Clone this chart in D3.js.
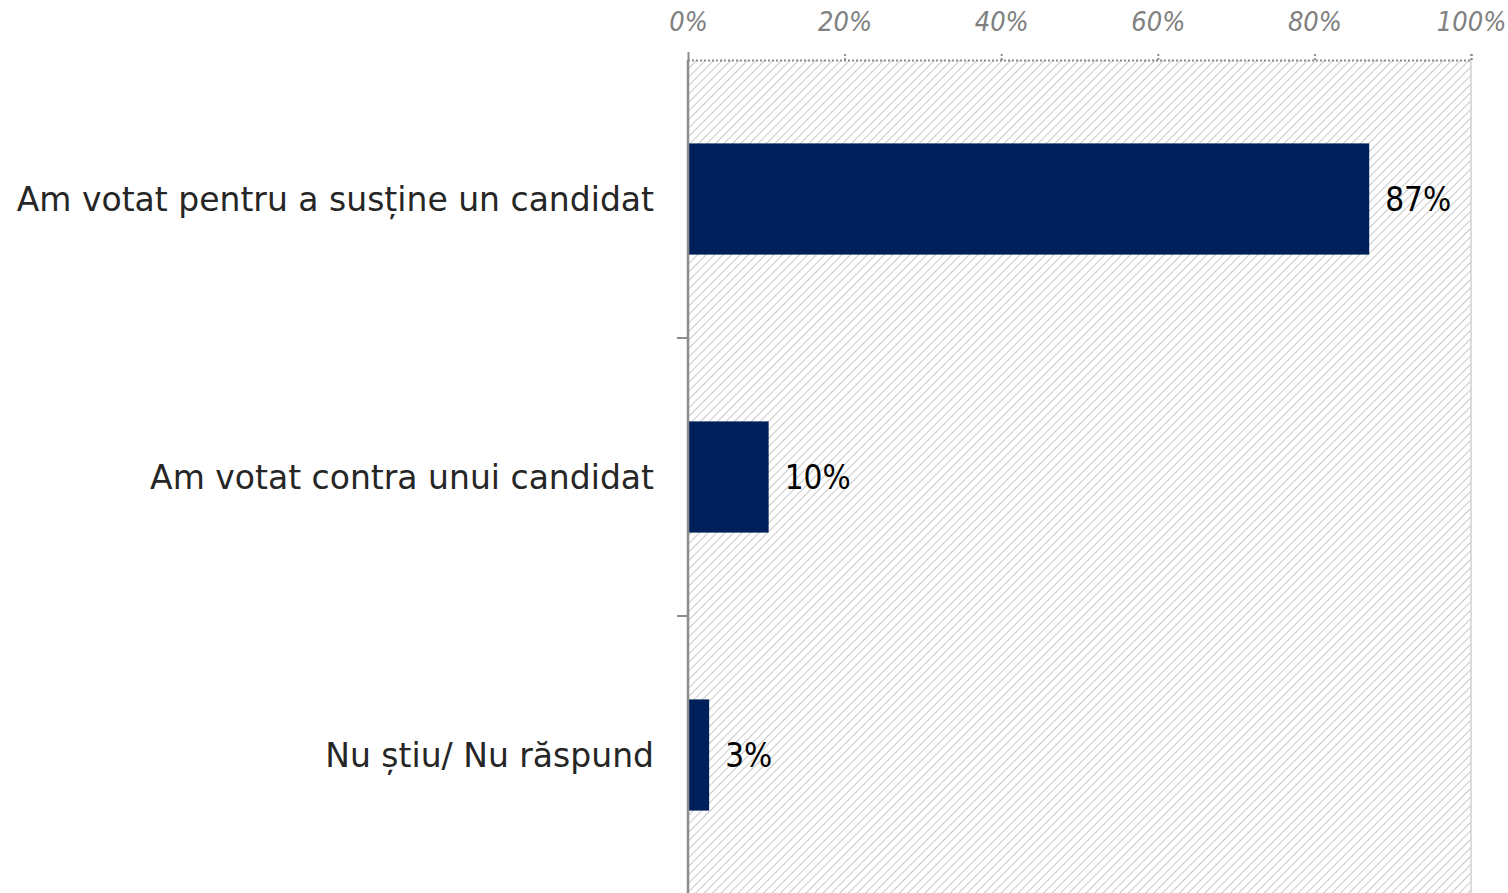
<!DOCTYPE html>
<html>
<head>
<meta charset="utf-8">
<script src="https://cdn.jsdelivr.net/npm/d3@7"></script>
<style>
  body { margin: 0; background: #fff; }
  svg { display: block; }
</style>
</head>
<body>
<div id="chart"></div>
<script>
'use strict';
// data
const categories = ['Am votat pentru a susține un candidat', 'Am votat contra unui candidat', 'Nu știu/ Nu răspund'];
const values = [87, 10.3, 2.7];
const tickValues = [0, 20, 40, 60, 80, 100];

const W = 1508, H = 893;
const margin = {top: 60, right: 37, bottom: -1, left: 688};
const width = W - margin.left - margin.right,
    height = H - margin.top - margin.bottom;
const font = '"DejaVu Sans", sans-serif';
const fontCond = '"DejaVu Sans Condensed", "DejaVu Sans", sans-serif';

const svg = d3.select('#chart').append('svg')
    .attr('width', W)
    .attr('height', H);

// hatch pattern for plot background
const defs = svg.append('defs');
const pat = defs.append('pattern')
    .attr('id', 'hatch')
    .attr('patternUnits', 'userSpaceOnUse')
    .attr('width', 6)
    .attr('height', 6)
    .attr('patternTransform', 'rotate(45)');
pat.append('line')
    .attr('x1', 0).attr('y1', 0)
    .attr('x2', 0).attr('y2', 6)
    .attr('stroke', '#c8c8c8')
    .attr('stroke-width', 2);

const g = svg.append('g')
    .attr('transform', 'translate(' + margin.left + ',' + margin.top + ')');

const x = d3.scaleLinear().domain([0, 100]).range([0, width]);
const y = d3.scaleBand().domain(categories).range([0, height]).paddingInner(0.6).paddingOuter(0.3);
const yBand = d3.scaleBand().domain(categories).range([0, height]);

g.append('rect')
    .attr('width', width)
    .attr('height', height)
    .attr('fill', 'url(#hatch)');

// right border
g.append('line')
    .attr('x1', width).attr('x2', width)
    .attr('y1', 0).attr('y2', height)
    .attr('stroke', '#d0d0d0')
    .attr('stroke-width', 1.5);

// top axis
const xAxis = g.append('g')
    .call(d3.axisTop(x).tickValues(tickValues).tickSize(8).tickPadding(21)
        .tickFormat(d => d + '%'));
xAxis.select('.domain')
    .attr('stroke', '#8c8c8c')
    .attr('stroke-width', 2)
    .attr('stroke-dasharray', '2,2');
xAxis.selectAll('.tick line')
    .attr('stroke', '#8c8c8c')
    .attr('stroke-width', 2)
    .attr('stroke-dasharray', '2,2');
xAxis.selectAll('.tick text')
    .attr('fill', '#808080')
    .style('font-family', fontCond)
    .style('font-style', 'italic')
    .style('font-size', '27px');

// bars
g.selectAll('.bar')
    .data(values)
    .enter().append('rect')
    .attr('class', 'bar')
    .attr('x', 0)
    .attr('y', (d, i) => y(categories[i]))
    .attr('width', d => x(d))
    .attr('height', y.bandwidth())
    .attr('fill', '#00205b');

// value labels
g.selectAll('.val')
    .data(values)
    .enter().append('text')
    .attr('class', 'val')
    .attr('x', d => x(d) + 16)
    .attr('y', (d, i) => y(categories[i]) + y.bandwidth() / 2)
    .attr('dy', '0.37em')
    .style('font-family', fontCond)
    .style('font-size', '33px')
    .attr('fill', '#000')
    .text(d => d3.format('.0f')(d) + '%');

// left axis (category boundaries as ticks)
g.append('line')
    .attr('x1', 0).attr('x2', 0)
    .attr('y1', 0).attr('y2', height)
    .attr('stroke', '#8c8c8c')
    .attr('stroke-width', 2.5);
g.selectAll('.ytick')
    .data(categories.slice(1))
    .enter().append('line')
    .attr('class', 'ytick')
    .attr('x1', -11).attr('x2', 0)
    .attr('y1', d => yBand(d)).attr('y2', d => yBand(d))
    .attr('stroke', '#8c8c8c')
    .attr('stroke-width', 2);

// category labels
g.selectAll('.cat')
    .data(categories)
    .enter().append('text')
    .attr('class', 'cat')
    .attr('x', -34)
    .attr('y', d => yBand(d) + yBand.bandwidth() / 2)
    .attr('dy', '0.35em')
    .attr('text-anchor', 'end')
    .style('font-family', font)
    .style('font-size', '33px')
    .attr('fill', '#262626')
    .text(d => d);
</script>
</body>
</html>
